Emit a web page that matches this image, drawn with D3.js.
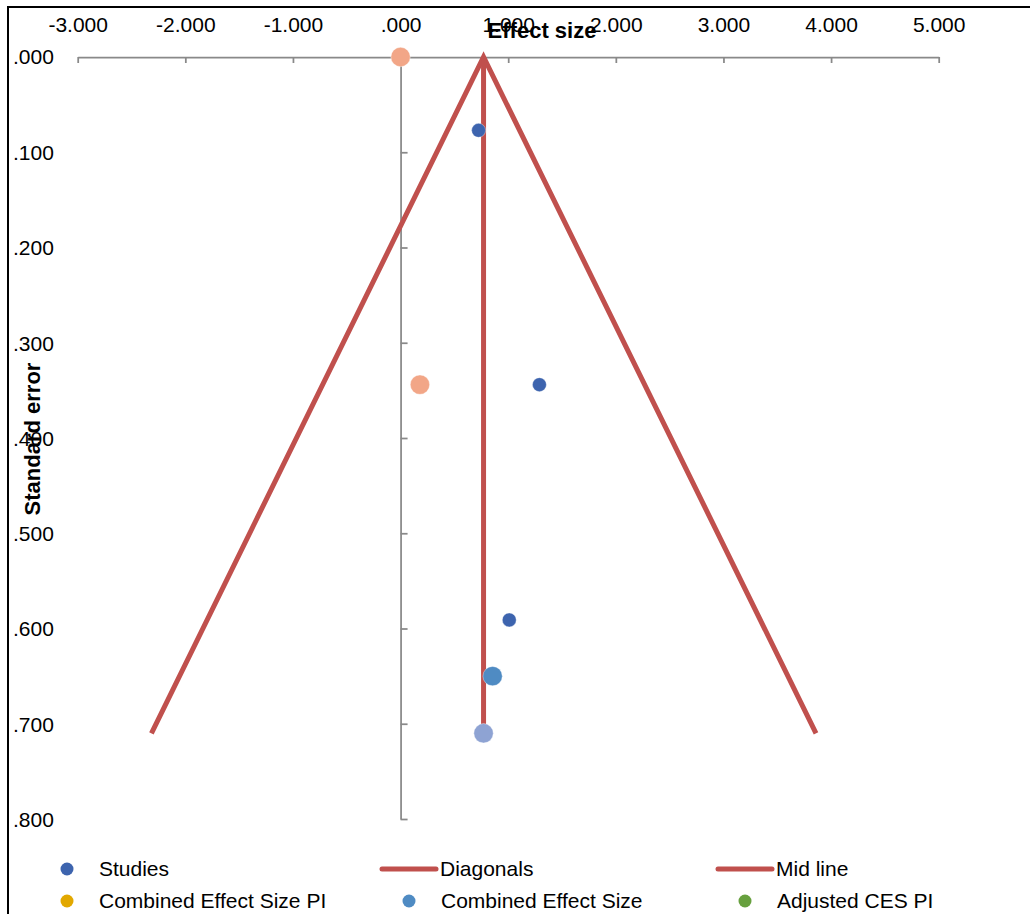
<!DOCTYPE html>
<html>
<head>
<meta charset="utf-8">
<script src="https://cdn.jsdelivr.net/npm/d3@7"></script>
<style>
  html, body { margin: 0; padding: 0; background: #fff; }
  svg { display: block; overflow: hidden; }
  text { font-family: "Liberation Sans", Arial, sans-serif; fill: #000; }
</style>
</head>
<body>
<div id="chart"></div>
<script>
// data
const studyES = [0.725, 1.29, 1.01];
const studySE = [0.077, 0.344, 0.591];

const imputedES = [0.0, 0.18];
const imputedSE = [0.0, 0.344];

const combinedES = [0.855];
const combinedSE = [0.650];

const adjustedES = [0.771];
const adjustedSE = [0.710];

const midES = [0.771, 0.771];
const midSE = [0.0, 0.710];

const diagES = [-2.315, 0.771, 3.86];
const diagSE = [0.710, 0.0, 0.710];

const xTicks = [-3, -2, -1, 0, 1, 2, 3, 4, 5];
const yTicks = [0, 0.1, 0.2, 0.3, 0.4, 0.5, 0.6, 0.7, 0.8];

const legendNames = ["Studies", "Diagonals", "Mid line", "Combined Effect Size PI", "Combined Effect Size", "Adjusted CES PI"];
const legendKinds = ["dot", "line", "line", "dot", "dot", "dot"];
const legendColors = ["#3D64AE", "#C0504D", "#C0504D", "#E2A800", "#4F8BC3", "#67A03E"];

const width = 1030, height = 914;

const svg = d3.select("#chart").append("svg")
    .attr("width", width)
    .attr("height", height);

// chart frame (runs off the right and bottom of the picture)
svg.append("rect")
    .attr("x", 8).attr("y", 7)
    .attr("width", 1200).attr("height", 1200)
    .attr("fill", "none")
    .attr("stroke", "#000")
    .attr("stroke-width", 2);

const x = d3.scaleLinear().domain([-3, 5]).range([77.7, 938.7]);
const y = d3.scaleLinear().domain([0, 0.8]).range([57, 819]);

const locale = d3.formatLocale({ decimal: ".", thousands: ",", grouping: [3], currency: ["", ""], minus: "-" });
const fmt = v => locale.format(".3f")(v).replace(/^0\./, ".").replace(/^-0\./, "-.");

// x axis along the top, ticks pointing down, labels above
const xAxis = svg.append("g")
    .attr("transform", `translate(0,${y(0)})`)
    .call(d3.axisBottom(x).tickValues(xTicks).tickSize(6).tickSizeOuter(0).tickFormat(fmt));
xAxis.select(".domain").attr("stroke", "#898989").attr("stroke-width", 1.75);
xAxis.selectAll(".tick line").attr("stroke", "#898989").attr("stroke-width", 1.75);
xAxis.selectAll(".tick text")
    .attr("y", -32).attr("dy", "0.35em")
    .style("font-size", "21px");

// y axis at x = 0, labels at the far left
const yAxis = svg.append("g")
    .attr("transform", `translate(${x(0)},0)`)
    .call(d3.axisRight(y).tickValues(yTicks.slice(1)).tickSize(7).tickSizeOuter(0).tickFormat(fmt));
yAxis.select(".domain").attr("stroke", "#898989").attr("stroke-width", 1.75);
yAxis.selectAll(".tick line").attr("stroke", "#898989").attr("stroke-width", 1.75);
yAxis.selectAll(".tick text")
    .attr("x", 13 - x(0)).attr("dy", "0.35em")
    .attr("text-anchor", "start")
    .style("font-size", "21px");

// .000 label for the top of the y axis
svg.append("text")
    .attr("x", 13).attr("y", y(yTicks[0]))
    .attr("dy", "0.35em")
    .style("font-size", "21px")
    .text(fmt(yTicks[0]));

const line = d3.line().x(d => x(d[0])).y(d => y(d[1]));

svg.append("path")
    .datum(diagES.map((v, i) => [v, diagSE[i]]))
    .attr("d", line)
    .attr("fill", "none")
    .attr("stroke", "#C0504D")
    .attr("stroke-width", 5)
    .attr("stroke-linejoin", "miter");

svg.append("path")
    .datum(midES.map((v, i) => [v, midSE[i]]))
    .attr("d", line)
    .attr("fill", "none")
    .attr("stroke", "#C0504D")
    .attr("stroke-width", 5);

function dots(es, se, r, color) {
    svg.append("g").selectAll("circle")
        .data(es.map((v, i) => [v, se[i]]))
        .join("circle")
        .attr("cx", d => x(d[0]))
        .attr("cy", d => y(d[1]))
        .attr("r", r)
        .attr("fill", color)
        .attr("stroke", "#fff")
        .attr("stroke-opacity", 0.5)
        .attr("stroke-width", 0.75);
}

dots(studyES, studySE, 7, "#3D64AE");
dots(imputedES, imputedSE, 9.7, "#F2A687");
dots(combinedES, combinedSE, 9.7, "#4F8BC3");
dots(adjustedES, adjustedSE, 9.7, "#8EA3D3");

// axis titles
svg.append("text")
    .attr("x", 542).attr("y", 30)
    .attr("dy", "0.35em")
    .attr("text-anchor", "middle")
    .style("font-size", "22px")
    .style("font-weight", "bold")
    .text("Effect size");

svg.append("text")
    .attr("transform", "translate(32,439) rotate(-90)")
    .attr("dy", "0.35em")
    .attr("text-anchor", "middle")
    .style("font-size", "22px")
    .style("font-weight", "bold")
    .text("Standard error");

// legend, 3 columns
const colX = [67, 409, 745];
const rowY = [869, 901];
const legend = svg.append("g").selectAll("g")
    .data(legendNames)
    .join("g")
    .attr("transform", (d, i) => `translate(${colX[i % 3]},${rowY[Math.floor(i / 3)]})`);

legend.each(function (d, i) {
    const g = d3.select(this);
    if (legendKinds[i] === "line") {
        g.append("line")
            .attr("x1", -27).attr("x2", 27)
            .attr("stroke", legendColors[i])
            .attr("stroke-width", 5)
            .attr("stroke-linecap", "round");
        g.append("text").attr("x", 31).attr("dy", "0.35em").style("font-size", "21px").text(d);
    } else {
        g.append("circle").attr("r", 6.5).attr("fill", legendColors[i]);
        g.append("text").attr("x", 32).attr("dy", "0.35em").style("font-size", "21px").text(d);
    }
});
</script>
</body>
</html>
